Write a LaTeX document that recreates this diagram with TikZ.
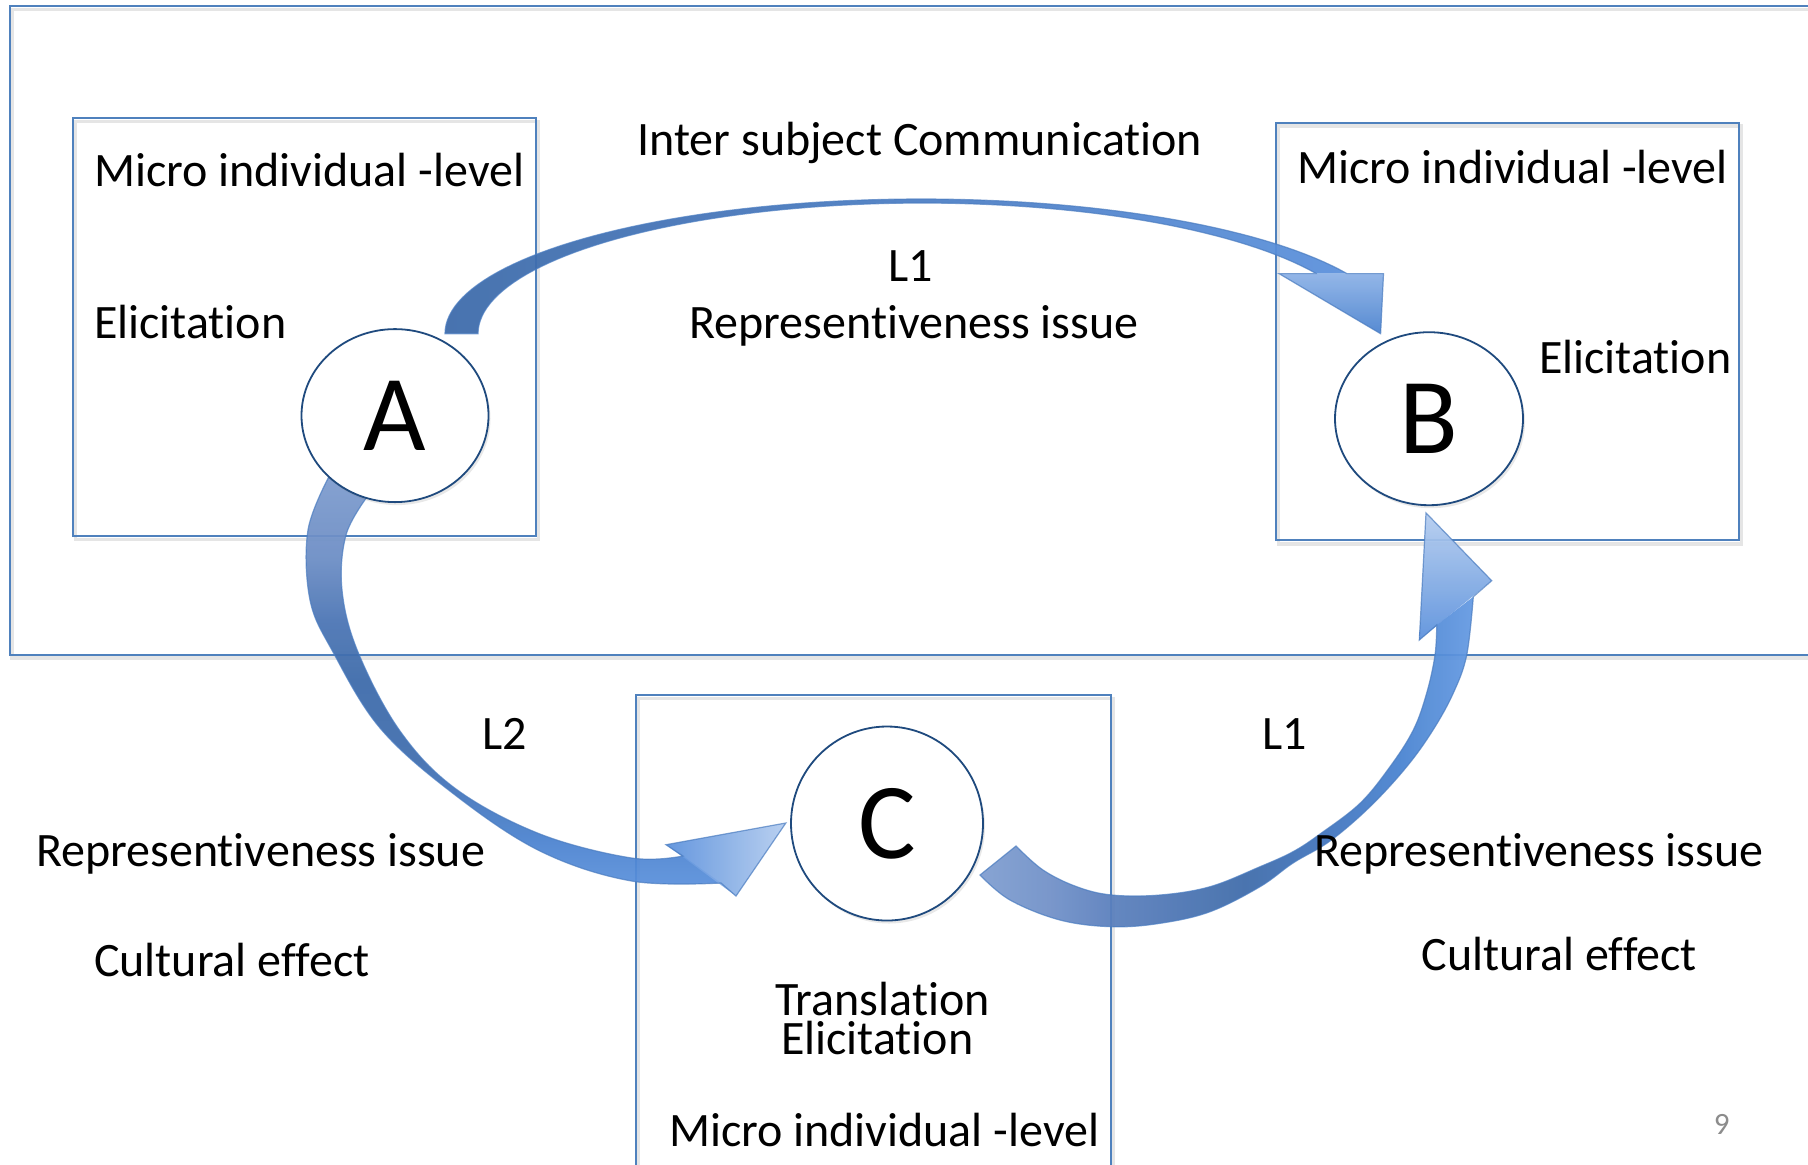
\documentclass[tikz,border=0pt]{standalone}
\usepackage{fontspec}
\setmainfont{Carlito}[RawFeature={-liga;-clig;-dlig}]
\usetikzlibrary{shapes.geometric,shadows}
\definecolor{boxblue}{HTML}{4F81BD}
\definecolor{circblue}{HTML}{1F4A7E}
\definecolor{edgeblue}{HTML}{4A7CC0}
\definecolor{numgray}{HTML}{8C8C8C}
\definecolor{lA}{HTML}{5A90DC}
\definecolor{lB}{HTML}{4A82CF}
\definecolor{lC}{HTML}{3E6CAE}
\definecolor{lD}{HTML}{3B69A9}
\definecolor{lE}{HTML}{4A74B4}
\definecolor{lF}{HTML}{6A8CC4}
\definecolor{lG}{HTML}{7D9BCE}
\definecolor{rA}{HTML}{7E9DD0}
\definecolor{rB}{HTML}{7090C8}
\definecolor{rC}{HTML}{5A7FBD}
\definecolor{rD}{HTML}{3D6AA9}
\definecolor{rE}{HTML}{3F72BB}
\definecolor{rF}{HTML}{4782D0}
\definecolor{rG}{HTML}{6399E2}
\pgfdeclareverticalshading{bandL}{100bp}{color(0bp)=(lA); color(25bp)=(lA); color(30.7bp)=(lB); color(40.4bp)=(lC); color(50bp)=(lD); color(57.4bp)=(lE); color(64.7bp)=(lF); color(75bp)=(lG); color(100bp)=(lG)}
\pgfdeclarehorizontalshading{bandR}{100bp}{color(0bp)=(rA); color(25bp)=(rA); color(32bp)=(rB); color(38bp)=(rC); color(51.8bp)=(rD); color(59bp)=(rE); color(67.5bp)=(rF); color(75bp)=(rG); color(100bp)=(rG)}
\newcommand{\nl}{\kern0pt }
\begin{document}
\begin{tikzpicture}[x=0.5pt,y=-0.5pt,
  boxline/.style={draw=boxblue, line width=1pt},
  shadowline/.style={draw=black!10, line width=1.8pt},
  arrowfill/.style={fill opacity=0.93},
  arrowedge/.style={draw=edgeblue, draw opacity=0.7, line width=0.6pt},
  circnode/.style={ellipse, draw=circblue, fill=white, line width=0.9pt, inner sep=0pt,
     font=\fontsize{54pt}{60pt}\selectfont,
     drop shadow={shadow xshift=1pt, shadow yshift=-1.5pt, opacity=0.18}},
  lbl/.style={anchor=base west, inner sep=0pt, font=\fontsize{24pt}{28pt}\selectfont}]
\useasboundingbox (0,0) rectangle (1808,1164);
\clip (0,0) rectangle (1808,1164);
\fill[white] (0,0) rectangle (1808,1164);

% box shadows
\draw[shadowline] (12,9.5) rectangle (1832,658);
\draw[shadowline] (75.5,121.5) rectangle (538.5,539.5);
\draw[shadowline] (1278.5,126) rectangle (1741.5,544);
\draw[shadowline] (638.5,698.5) rectangle (1113.5,1195);
% boxes
\draw[boxline] (9.5,6) rectangle (1830,654.5);
\draw[boxline] (73,118) rectangle (536,536);
\draw[boxline] (1276,122.5) rectangle (1739,540.4);
\draw[boxline] (636,695) rectangle (1111,1192);

% ---------- top arrow A -> B ----------
\path[arrowfill, left color=lD, right color=lA]
  plot[domain=180:26.5, samples=80, variable=\t] ({921+476*cos(\t)}, {333.7-134.7*sin(\t)})
  -- plot[domain=27.4:180, samples=80, variable=\t] ({922+444*cos(\t)}, {333.7-130.7*sin(\t)})
  -- cycle;
\path[arrowfill, top color=lA!70!white, bottom color=lB]
  (1279,273.6) -- (1383.5,273.6) -- (1380.6,333.7) -- cycle;
\path[arrowedge]
  plot[domain=180:26.5, samples=80, variable=\t] ({921+476*cos(\t)}, {333.7-134.7*sin(\t)})
  -- (1383.5,273.6) -- (1380.6,333.7) -- (1279,273.6) -- (1316.2,273.6)
  -- plot[domain=27.4:180, samples=80, variable=\t] ({922+444*cos(\t)}, {333.7-130.7*sin(\t)})
  -- cycle;

% ---------- left arrow A -> C ----------
\path[arrowfill, shading=bandL]
  plot[smooth, tension=0.6] coordinates {(329.8,475) (308,530) (310,600) (333,652) (380,728) (452.5,793) (540,851) (631.6,881) (721,883)}
  -- plot[smooth, tension=0.6] coordinates {(683,856) (631.6,858) (540,834) (456,789) (400,731) (358,652) (342,590) (346,535) (367,497)}
  -- cycle;
\path[arrowfill, left color=lA, right color=lA!45!white]
  (736,896) -- (785.8,823) -- (666,844.7) -- cycle;
\path[arrowedge]
  plot[smooth, tension=0.6] coordinates {(329.8,475) (308,530) (310,600) (333,652) (380,728) (452.5,793) (540,851) (631.6,881) (721,883)}
  -- (736,896) -- (785.8,823) -- (666,844.7) -- (683,856)
  -- plot[smooth, tension=0.6] coordinates {(683,856) (631.6,858) (540,834) (456,789) (400,731) (358,652) (342,590) (346,535) (367,497)};

% ---------- right arrow C -> B ----------
\path[arrowfill, shading=bandR]
  plot[smooth, tension=0.6] coordinates {(980,875) (1010,900) (1060,920) (1111.7,926.7) (1160,923.3) (1210,911.7) (1260,886.7) (1293,863) (1330,841) (1370,806.7) (1406.7,766.7) (1433,730) (1453.3,693) (1466.7,655) (1473.3,596.7)}
  -- plot[smooth, tension=0.6] coordinates {(1436.7,625) (1435,655) (1426.7,693) (1413.3,730) (1390,766.7) (1360,803.3) (1320,834) (1293,851.7) (1260,866.7) (1210,886.7) (1160,895) (1111.7,895) (1076.7,886.7) (1043,870) (1016,846)}
  -- cycle;
\path[arrowfill, top color=lA!45!white, bottom color=lA]
  (1491.7,580.7) -- (1426,512.9) -- (1419.3,640) -- cycle;
\path[arrowedge]
  plot[smooth, tension=0.6] coordinates {(980,875) (1010,900) (1060,920) (1111.7,926.7) (1160,923.3) (1210,911.7) (1260,886.7) (1293,863) (1330,841) (1370,806.7) (1406.7,766.7) (1433,730) (1453.3,693) (1466.7,655) (1473.3,596.7)}
  -- (1491.7,580.7) -- (1426,512.9) -- (1419.3,640) -- (1436.7,625)
  -- plot[smooth, tension=0.6] coordinates {(1436.7,625) (1435,655) (1426.7,693) (1413.3,730) (1390,766.7) (1360,803.3) (1320,834) (1293,851.7) (1260,866.7) (1210,886.7) (1160,895) (1111.7,895) (1076.7,886.7) (1043,870) (1016,846)}
  -- cycle;

% circles
\node[circnode, minimum width=93.5pt, minimum height=86.5pt] (A) at (395,415.6) {A};
\node[circnode, minimum width=94pt, minimum height=86.5pt] (B) at (1429,418.7) {B};
\node[circnode, minimum width=96pt, minimum height=97pt] (C) at (887,823.5) {C};

% labels
\node[lbl] (mA) at (93.6,186.4) {Micro individual -level};
\node[lbl] (eA) at (93.6,338.7) {Elicitat\nl ion};
\node[lbl] (isc) at (637,155.5) {Inter subject Communicat\nl ion};
\node[lbl] (l1t) at (888,281.5) {L1};
\node[lbl] (rt) at (689,338.7) {Represent\nl iveness issue};
\node[lbl] (mB) at (1297,183) {Micro individual -level};
\node[lbl] (eB) at (1538.7,373) {Elicitat\nl ion};
\node[lbl] (l2) at (482,749.5) {L2};
\node[lbl] (l1r) at (1262,749.5) {L1};
\node[lbl] (rl) at (35.6,866) {Represent\nl iveness issue};
\node[lbl] (rr) at (1314,866) {Represent\nl iveness issue};
\node[lbl] (cl) at (93.6,976) {Cultural ef\nl fect};
\node[lbl] (cr) at (1421,970) {Cultural ef\nl fect};
\node[lbl] (tr) at (775,1015) {Translat\nl ion};
\node[lbl] (eC) at (780.6,1054) {Elicitat\nl ion};
\node[lbl] (mC) at (668.7,1146) {Micro individual -level};
\node[anchor=base west, inner sep=0pt, font=\fontsize{15.5pt}{18pt}\selectfont, text=numgray] (pg) at (1713.5,1134) {9};
\end{tikzpicture}
\end{document}
